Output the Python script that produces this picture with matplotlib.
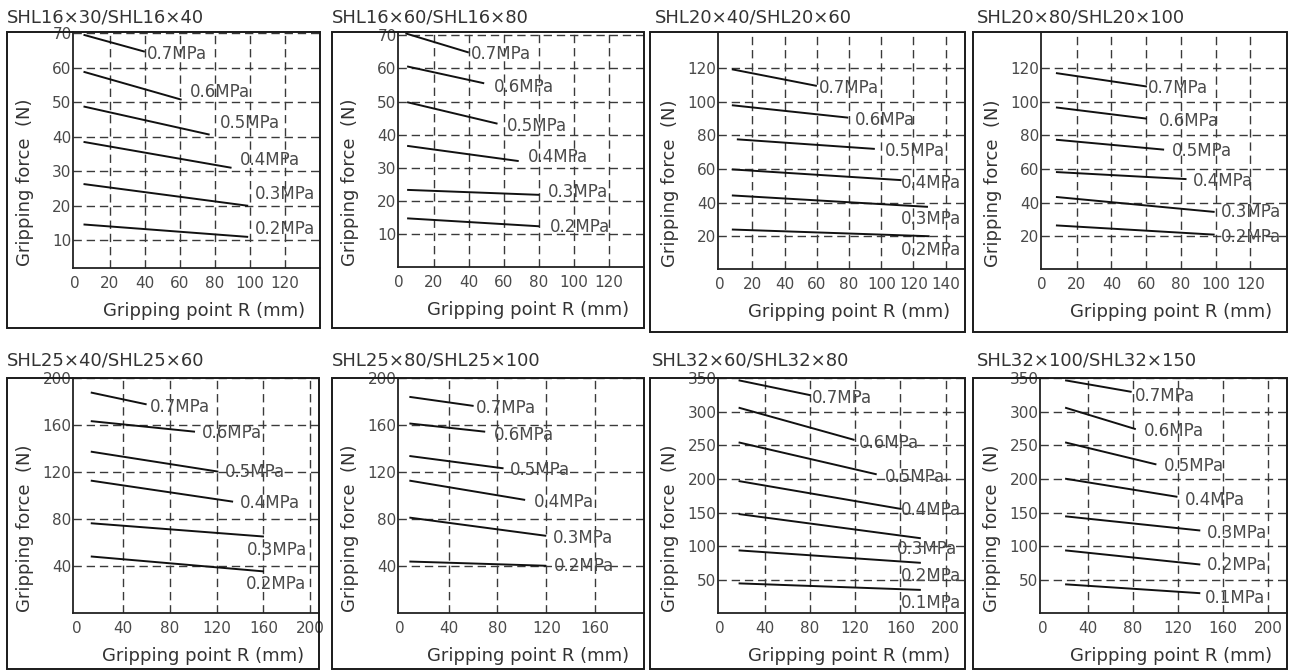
import matplotlib
matplotlib.use("Agg")
import matplotlib.pyplot as plt
from matplotlib.patches import Rectangle

W, H = 1290, 670
plt.rcParams['font.family'] = ['DejaVu Sans']

# ---------------- data ----------------
titles = ["SHL16×30/SHL16×40", "SHL16×60/SHL16×80", "SHL20×40/SHL20×60", "SHL20×80/SHL20×100",
          "SHL25×40/SHL25×60", "SHL25×80/SHL25×100", "SHL32×60/SHL32×80", "SHL32×100/SHL32×150"]

press6 = ["0.7MPa", "0.6MPa", "0.5MPa", "0.4MPa", "0.3MPa", "0.2MPa"]
press7 = ["0.7MPa", "0.6MPa", "0.5MPa", "0.4MPa", "0.3MPa", "0.2MPa", "0.1MPa"]

xticks_a = [0, 20, 40, 60, 80, 100, 120]
xticks_b = [0, 20, 40, 60, 80, 100, 120, 140]
xticks_c = [0, 40, 80, 120, 160, 200]
xticks_d = [0, 40, 80, 120, 160]
yticks_a = [10, 20, 30, 40, 50, 60, 70]
yticks_b = [20, 40, 60, 80, 100, 120]
yticks_c = [40, 80, 120, 160, 200]
yticks_d = [50, 100, 150, 200, 250, 300, 350]

p1_x = [[5, 40], [5, 61], [5, 77], [5, 89.5], [5, 99], [5, 99]]
p1_y = [[69.5, 64.6], [58.8, 50.7], [48.75, 40.6], [38.5, 31], [26.3, 20], [14.6, 11]]
p1_lx = [41, 66, 83, 94, 103, 103]
p1_ly = [63.8, 53, 44, 33.4, 23.5, 13.2]

p2_x = [[3.8, 40], [4.8, 48.8], [4.8, 56.4], [4.8, 68.5], [4.8, 80.3], [4.8, 80.3]]
p2_y = [[70.6, 64.8], [60.6, 55.5], [49.8, 43.3], [36.6, 32], [23.3, 21.8], [14.7, 12.3]]
p2_lx = [41, 54.5, 62, 73.6, 85, 86]
p2_ly = [64.5, 54.3, 42.6, 33.1, 22.8, 12]

p3_x = [[7.2, 60], [7.2, 79.5], [10.3, 96], [7.2, 112.6], [7.2, 129], [7.2, 130]]
p3_y = [[119.4, 109.5], [98, 90.6], [77.7, 72], [59.8, 53.4], [44.3, 37.5], [24, 20]]
p3_lx = [61, 83.7, 102, 112, 112, 112]
p3_ly = [108.5, 89, 70.7, 51.8, 30, 12]

p4_x = [[8, 60.4], [8, 60.4], [8, 70.3], [8, 83.2], [8, 99.4], [8, 99.4]]
p4_y = [[117, 109], [96.6, 89.9], [77.4, 71.5], [58.2, 54], [43.4, 34.5], [26.5, 21]]
p4_lx = [61, 67, 74.7, 87, 103, 103]
p4_ly = [108, 88.3, 70.5, 52.7, 34.5, 19.6]

p5_x = [[12.2, 60], [12.2, 101.4], [12.2, 121.4], [12.2, 134], [12.2, 160.4], [12.2, 160.4]]
p5_y = [[187.7, 177.6], [163.4, 154.4], [137.5, 120.5], [112.9, 95], [76.7, 65.4], [48.5, 35.8]]
p5_lx = [63, 107, 127, 140, 146, 145]
p5_ly = [175.6, 153, 120, 93.7, 54, 25]

p6_x = [[7.9, 60.5], [7.9, 70], [7.9, 85], [7.9, 102.7], [7.9, 120], [7.9, 120]]
p6_y = [[184, 176.3], [161.4, 154.4], [133.8, 123.3], [112.9, 96.5], [81.5, 66], [44.2, 40.6]]
p6_lx = [62, 77, 90.5, 109.5, 125, 126]
p6_ly = [174.7, 152, 122, 94.5, 64, 40.8]

p7_x = [[17, 80.3], [17, 119.4], [17, 139], [17, 161], [17, 178], [17, 178], [17, 178]]
p7_y = [[346.6, 324.5], [306, 258], [254.4, 206.9], [197, 155.4], [148, 112], [94, 75.5], [45, 35.3]]
p7_lx = [81.8, 123, 146, 160, 157, 160, 160]
p7_ly = [319.6, 253.4, 203.4, 154.4, 96.6, 56.4, 15.7]

p8_x = [[19.9, 79], [19.9, 82.7], [19.9, 101], [19.9, 119.7], [19.9, 140], [19.9, 140], [19.9, 140]]
p8_y = [[346.6, 329.4], [306, 274], [254.4, 221.6], [200.5, 173.5], [144.6, 123.5], [94, 73], [43.6, 30.4]]
p8_lx = [82, 89.5, 108, 126.5, 146, 146, 144]
p8_ly = [323, 270.6, 219, 168.6, 120, 72, 24]

# ---------------- layout (pixels) ----------------
axes_px = [(73, 32, 320, 268), (398, 32, 644, 267), (718, 33, 965, 269), (1041, 33, 1286, 269),
           (73, 378, 319, 613), (398, 378, 644, 613), (718, 378, 965, 613), (1040, 378, 1287, 613)]
box_px = [(7, 32, 320, 328), (332, 32, 644, 328), (650, 32, 965, 332), (973, 32, 1287, 332),
          (7, 378, 319, 669), (332, 378, 644, 669), (650, 378, 965, 669), (973, 378, 1287, 669)]
title_px = [(7, 17), (332, 17), (655, 17), (977, 17), (7, 361), (332, 361), (652, 361), (977, 361)]
xlims = [(-1, 140), (-0.4, 140), (-1.4, 152), (-0.6, 140.5), (-3, 207.5), (-1.4, 200), (-1.2, 217), (-2.4, 217)]
ylims = [(2, 70.3), (0, 71), (0.5, 141), (0.6, 140.8), (0.5, 200), (0.5, 200), (1, 348), (1, 348)]
xt = [xticks_a, xticks_a, xticks_b, xticks_a, xticks_c, xticks_d, xticks_c, xticks_c]
yt = [yticks_a, yticks_a, yticks_b, yticks_b, yticks_c, yticks_c, yticks_d, yticks_d]
xs = [p1_x, p2_x, p3_x, p4_x, p5_x, p6_x, p7_x, p8_x]
ys = [p1_y, p2_y, p3_y, p4_y, p5_y, p6_y, p7_y, p8_y]
lxs = [p1_lx, p2_lx, p3_lx, p4_lx, p5_lx, p6_lx, p7_lx, p8_lx]
lys = [p1_ly, p2_ly, p3_ly, p4_ly, p5_ly, p6_ly, p7_ly, p8_ly]
labs = [press6] * 6 + [press7, press7]

TXT = "#4a4a4a"
fig = plt.figure(figsize=(W / 100, H / 100), dpi=100)

for i in range(8):
    l, t, r, b = axes_px[i]
    ax = fig.add_axes([l / W, 1 - b / H, (r - l) / W, (b - t) / H])
    ax.set_xlim(*xlims[i])
    ax.set_ylim(*ylims[i])
    ax.set_xticks(xt[i])
    ax.set_yticks(yt[i])
    ax.patch.set_alpha(0)
    for s in ["top", "right"]:
        ax.spines[s].set_visible(False)
    for s in ["left", "bottom"]:
        ax.spines[s].set_linewidth(1.3)
        ax.spines[s].set_color("#222222")
    ax.tick_params(axis="both", length=0, labelsize=11, labelcolor=TXT)
    ax.tick_params(axis="x", pad=6)
    ax.tick_params(axis="y", pad=1)
    for v in xt[i][1:]:
        ax.axvline(v, color="#3a3a3a", lw=1.0, ls=(0, (6, 3.5)), zorder=1)
    for v in yt[i]:
        ax.axhline(v, color="#3a3a3a", lw=1.0, ls=(0, (6, 3.5)), zorder=1)
    for xx, yy, lx, ly, lab in zip(xs[i], ys[i], lxs[i], lys[i], labs[i]):
        ax.plot(xx, yy, color="#111111", lw=1.4, zorder=3, solid_capstyle="butt")
        ax.text(lx, ly, lab, fontsize=12, color=TXT, ha="left", va="center", zorder=4)
    ax.text(0.53, -0.182, "Gripping point R (mm)", transform=ax.transAxes, fontsize=13,
            color="#333333", ha="center", va="center")
    ax.text(-0.195, 0.362, "Gripping force  (N)", transform=ax.transAxes, fontsize=13,
            color="#333333", ha="center", va="center", rotation=90)

    bl, bt, br, bb = box_px[i]
    fig.add_artist(Rectangle((bl / W, 1 - bb / H), (br - bl) / W, (bb - bt) / H,
                             transform=fig.transFigure, fill=False, lw=1.4, ec="#1a1a1a"))
    tx, ty = title_px[i]
    fig.text(tx / W, 1 - ty / H, titles[i], fontsize=13, color="#333333", ha="left", va="center")

fig.savefig("out.png", dpi=100, facecolor="white")
